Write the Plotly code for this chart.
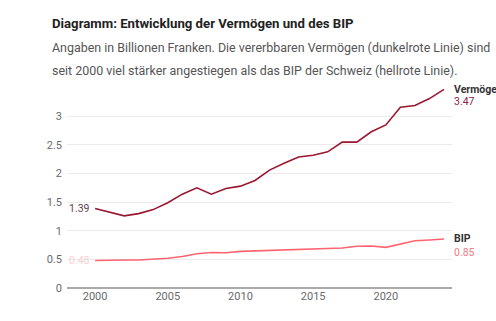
import plotly.graph_objects as go

years = list(range(2000, 2025))
vermoegen = [1.39, 1.33, 1.26, 1.30, 1.37, 1.49, 1.64, 1.75, 1.64, 1.74, 1.78, 1.88,
             2.06, 2.18, 2.29, 2.32, 2.38, 2.55, 2.55, 2.73, 2.85, 3.16, 3.19, 3.31, 3.47]
bip = [0.48, 0.49, 0.49, 0.49, 0.50, 0.52, 0.55, 0.60, 0.62, 0.615, 0.64, 0.65,
       0.66, 0.67, 0.675, 0.68, 0.69, 0.70, 0.73, 0.735, 0.71, 0.77, 0.825, 0.84, 0.855]
x_ticks = [2000, 2005, 2010, 2015, 2020]
y_ticks = [0, 0.5, 1, 1.5, 2, 2.5, 3]
y_tick_text = ["0", "0.5", "1", "1.5", "2", "2.5", "3"]

title = "Diagramm: Entwicklung der Vermögen und des BIP"
subtitle1 = "Angaben in Billionen Franken. Die vererbbaren Vermögen (dunkelrote Linie) sind"
subtitle2 = "seit 2000 viel stärker angestiegen als das BIP der Schweiz (hellrote Linie)."

DARK = "#9b1730"
LIGHT = "#ff6470"
FONT = "Roboto"

W, H = 496, 321
pl, pr, pt, pb = 67, 44, 82, 33
pw, ph = W - pl - pr, H - pt - pb

fig = go.Figure()
fig.add_trace(go.Scatter(x=years, y=bip, mode="lines", line=dict(color=LIGHT, width=1.6),
                         hoverinfo="skip", cliponaxis=False))
fig.add_trace(go.Scatter(x=years, y=vermoegen, mode="lines", line=dict(color=DARK, width=1.6),
                         hoverinfo="skip", cliponaxis=False))

fig.update_layout(
    width=W, height=H,
    margin=dict(l=pl, r=pr, t=pt, b=pb),
    paper_bgcolor="white", plot_bgcolor="white",
    showlegend=False,
    font=dict(family=FONT, size=11, color="#666"),
    xaxis=dict(range=[1998.07, 2024.55], tickvals=x_ticks, showgrid=False, zeroline=False,
               showline=False, ticks="", tickfont=dict(size=11, color="#6a6a6a"),
               fixedrange=True),
    yaxis=dict(range=[0, 3.6], tickvals=y_ticks, ticktext=y_tick_text, showgrid=True,
               gridcolor="#ebebeb", gridwidth=1, zeroline=True, zerolinecolor="#aaaaaa",
               zerolinewidth=2, showline=False, ticks="", ticklabelstandoff=4,
               tickfont=dict(size=11, color="#6a6a6a"), fixedrange=True),
)


def px(x):
    return (x - pl) / pw


def py(y):
    return (H - pb - y) / ph


texts = [
    (title, 50, 24, 13.2, "#222222", True),
    (subtitle1, 50, 47, 12.45, "#555555", False),
    (subtitle2, 50, 70, 12.45, "#555555", False),
]
for t, x, y, s, c, b in texts:
    fig.add_annotation(text=("<b>%s</b>" % t) if b else t, x=px(x), y=py(y), xref="paper",
                       yref="paper", xanchor="left", yanchor="middle", showarrow=False,
                       font=dict(family=FONT, size=s, color=c))

# end labels
fig.add_annotation(text="<b>Vermögen</b>", x=years[-1], y=vermoegen[-1], xshift=8, yshift=0,
                   xanchor="left", yanchor="middle", showarrow=False,
                   font=dict(family=FONT, size=10.5, color="#333"))
fig.add_annotation(text="%.2f" % vermoegen[-1], x=years[-1], y=vermoegen[-1], xshift=8, yshift=-12,
                   xanchor="left", yanchor="middle", showarrow=False,
                   font=dict(family=FONT, size=10.5, color="#8e2145"))
fig.add_annotation(text="<b>BIP</b>", x=years[-1], y=bip[-1], xshift=8, yshift=1,
                   xanchor="left", yanchor="middle", showarrow=False,
                   font=dict(family=FONT, size=10.5, color="#333"))
fig.add_annotation(text="%.2f" % bip[-1], x=years[-1], y=bip[-1], xshift=8, yshift=-13,
                   xanchor="left", yanchor="middle", showarrow=False,
                   font=dict(family=FONT, size=10.5, color="#f07a8a"))
# start labels
fig.add_annotation(text="%.2f" % vermoegen[0], x=years[0], y=vermoegen[0], xshift=-3,
                   xanchor="right", yanchor="middle", showarrow=False,
                   font=dict(family=FONT, size=10.5, color="#6a4050"))
fig.add_annotation(text="%.2f" % bip[0], x=years[0], y=bip[0], xshift=-3,
                   xanchor="right", yanchor="middle", showarrow=False,
                   font=dict(family=FONT, size=10.5, color="#f6d0d6"))

fig.write_html("out.html")
